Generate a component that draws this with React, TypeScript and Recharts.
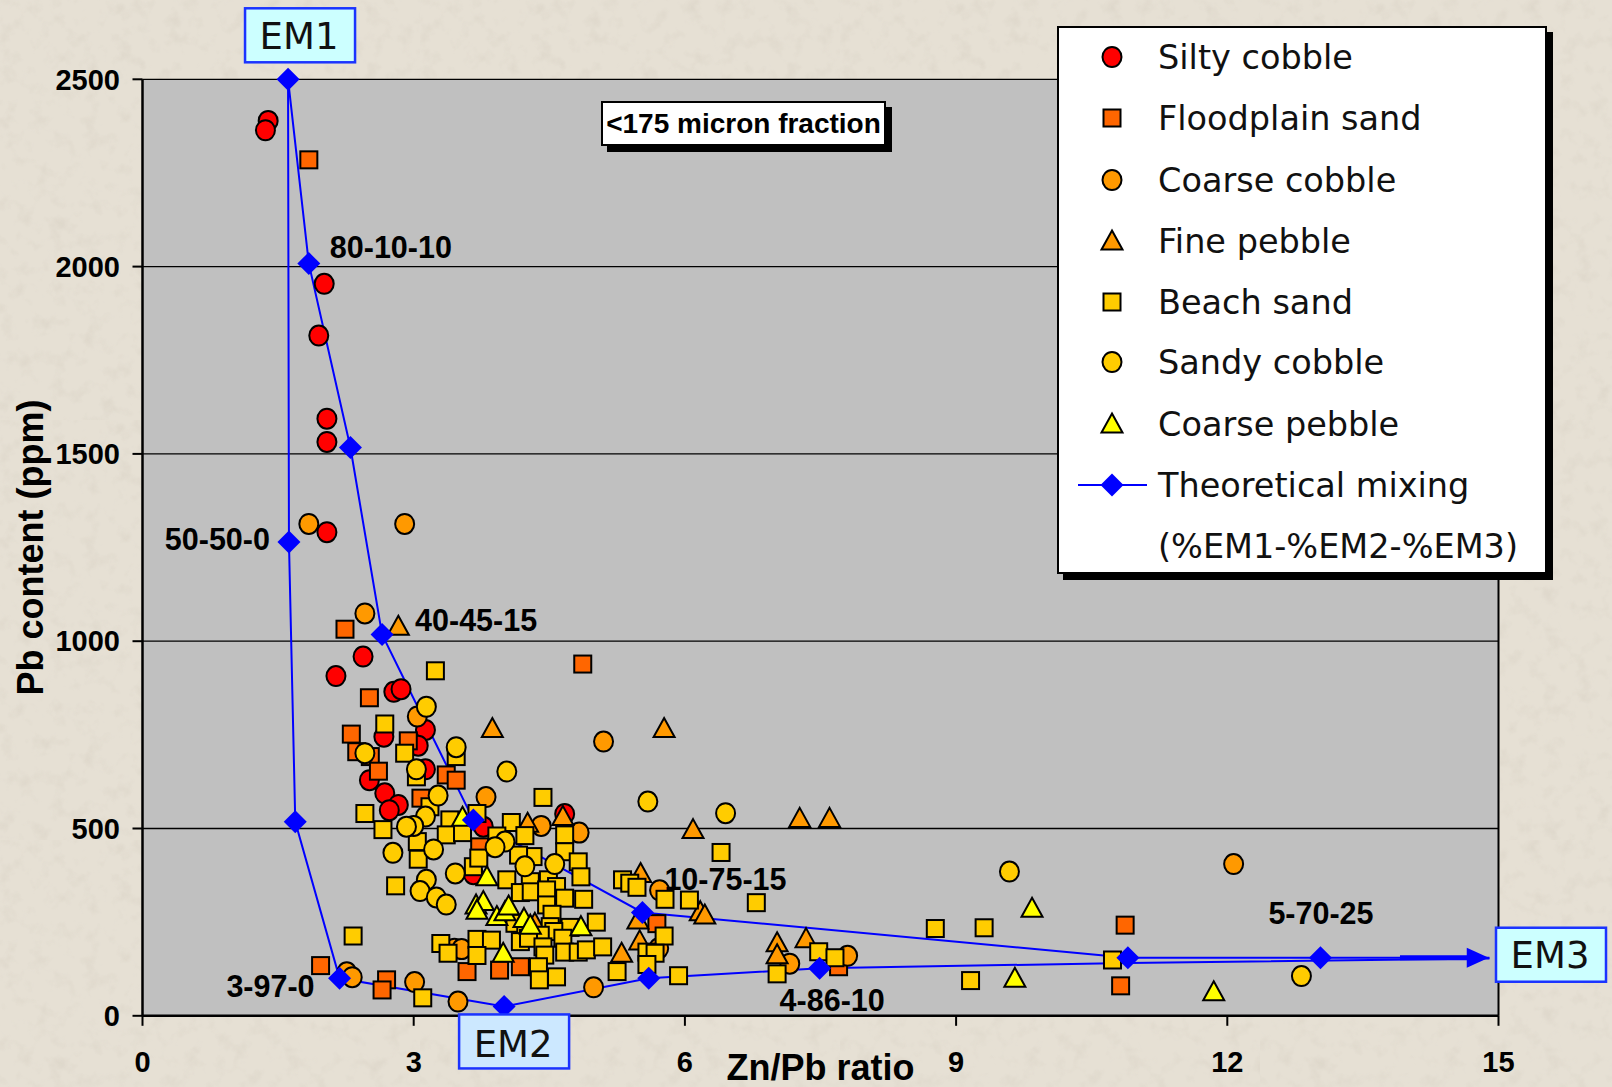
import React from 'react';
import { ScatterChart, Scatter, XAxis, YAxis, CartesianGrid, ReferenceLine, ReferenceDot } from 'recharts';

type Pt = [number, number];

const xTicks = [0, 3, 6, 9, 12, 15];
const yTicks = [0, 500, 1000, 1500, 2000, 2500];

// sample groups: [Zn/Pb ratio, Pb ppm]
const siltyCobble: Pt[] = [
  [1.39, 2389], [1.36, 2364], [2.01, 1954], [1.95, 1816], [2.04, 1594], [2.04, 1532], [2.04, 1291],
  [2.44, 959], [2.14, 907], [2.78, 865], [2.86, 872], [3.13, 763], [2.67, 745], [3.05, 721],
  [3.13, 658], [2.51, 629], [2.68, 594], [2.83, 563], [2.73, 549], [3.77, 505], [4.67, 539], [3.66, 378],
];

const floodplainSand: Pt[] = [
  [1.84, 2285], [2.24, 1032], [4.87, 939], [2.51, 849], [2.31, 752], [2.94, 734], [2.37, 705],
  [2.52, 692], [2.61, 653], [3.36, 643], [3.47, 629], [3.08, 581], [3.73, 451], [1.97, 134],
  [2.70, 96], [2.65, 69], [3.59, 118], [3.95, 122], [4.18, 131], [5.69, 246], [7.70, 131],
  [10.87, 242], [10.82, 80],
];

const coarseCobble: Pt[] = [
  [1.84, 1313], [2.90, 1313], [2.46, 1074], [3.04, 799], [5.10, 732], [3.80, 584], [4.41, 507],
  [4.83, 489], [5.72, 335], [5.71, 180], [3.45, 179], [3.53, 178], [2.26, 116], [2.32, 103],
  [3.01, 90], [3.49, 38], [4.99, 76], [7.16, 139], [7.80, 160], [12.07, 405],
];

const finePebble: Pt[] = [
  [2.83, 1040], [3.87, 767], [5.77, 767], [6.09, 497], [4.65, 532], [4.26, 514], [7.27, 527],
  [7.60, 527], [5.51, 380], [6.17, 278], [6.22, 269], [5.48, 256], [5.50, 200], [5.30, 167],
  [7.02, 195], [7.02, 163], [7.34, 206], [4.34, 247],
];

const beachSand: Pt[] = [
  [3.24, 921], [2.68, 779], [2.90, 701], [3.47, 692], [3.03, 638], [3.18, 558], [2.46, 540],
  [3.40, 523], [2.66, 497], [3.36, 483], [3.54, 489], [3.04, 465], [3.05, 418], [2.80, 347],
  [2.33, 213], [3.30, 193], [3.38, 167], [3.10, 48], [4.43, 583], [4.08, 516], [3.70, 540],
  [3.92, 480], [4.23, 481], [4.67, 483], [4.67, 438], [4.32, 425], [4.16, 429], [4.82, 411],
  [4.85, 371], [3.66, 398], [3.72, 421], [4.03, 363], [4.29, 358], [4.49, 363], [4.58, 345],
  [4.18, 329], [4.30, 331], [4.47, 336], [4.67, 314], [4.88, 311], [4.47, 296], [4.53, 271],
  [4.12, 247], [4.51, 238], [4.73, 236], [4.55, 225], [4.24, 220], [4.40, 215], [5.02, 250],
  [3.70, 204], [3.86, 202], [4.18, 198], [4.27, 207], [4.43, 184], [4.65, 207], [4.67, 170],
  [4.82, 170], [4.91, 176], [5.09, 184], [4.45, 162], [3.70, 161], [4.38, 131], [4.39, 96],
  [4.58, 104], [5.25, 118], [5.31, 363], [5.39, 354], [5.47, 343], [5.78, 311], [6.05, 309],
  [6.79, 302], [6.40, 436], [5.77, 213], [5.58, 170], [5.67, 167], [5.58, 137], [5.93, 107],
  [7.02, 112], [7.48, 171], [7.66, 155], [8.77, 233], [9.31, 235], [9.16, 94], [10.73, 149],
];

const sandyCobble: Pt[] = [
  [3.14, 825], [2.46, 701], [3.47, 717], [3.03, 658], [3.27, 588], [3.13, 532], [3.00, 507],
  [2.92, 505], [4.03, 652], [5.59, 572], [6.45, 541], [2.77, 435], [3.22, 444], [3.46, 380],
  [3.14, 363], [3.07, 333], [3.25, 316], [3.36, 297], [4.01, 465], [3.90, 450], [4.23, 399],
  [4.56, 405], [9.59, 385], [12.82, 106],
];

const coarsePebble: Pt[] = [
  [3.54, 530], [3.81, 371], [3.69, 296], [3.77, 305], [3.70, 282], [3.92, 265], [4.01, 278],
  [4.05, 293], [4.22, 260], [4.29, 242], [4.85, 238], [3.99, 167], [9.84, 287], [9.65, 100],
  [11.85, 64],
];

// theoretical mixing model
const mixUpper: Pt[] = [
  [1.61, 2500], [1.84, 2008], [2.30, 1517], [2.65, 1018], [3.66, 523], [5.53, 276],
  [10.9, 155], [13.03, 155], [14.9, 155],
];
const mixLower: Pt[] = [
  [1.61, 2500], [1.62, 1265], [1.69, 518], [2.18, 100], [4.0, 25], [5.6, 100], [7.49, 127],
  [10.9, 141], [14.9, 153],
];
const mixNodes: Pt[] = [
  [1.61, 2500], [1.84, 2008], [2.30, 1517], [2.65, 1018], [3.66, 523], [5.53, 276], [10.9, 155],
  [13.03, 155], [1.62, 1265], [1.69, 518], [2.18, 100], [4.0, 25], [5.6, 100], [7.49, 127],
];
const em3Point: Pt = [15, 155];
const arrowShaft: Pt[] = [[13.91, 155], [14.66, 155]];

const legendNames = [
  'Silty cobble', 'Floodplain sand', 'Coarse cobble', 'Fine pebble', 'Beach sand',
  'Sandy cobble', 'Coarse pebble', 'Theoretical mixing', '(%EM1-%EM2-%EM3)',
];

const toPoints = (pts: Pt[]) => pts.map(([x, y]) => ({ x, y }));

const ink = '#000';
const blue = '#0000ff';
const boldFont = '"Liberation Sans", Arial, sans-serif';
const plainFont = '"DejaVu Sans", Verdana, sans-serif';

// faint mottled texture for the page background
const grain =
  "url(\"data:image/svg+xml;utf8,<svg xmlns='http://www.w3.org/2000/svg' width='420' height='420'>" +
  "<filter id='n'><feTurbulence type='fractalNoise' baseFrequency='0.06' numOctaves='3' seed='7'/>" +
  "<feColorMatrix values='0 0 0 0 0.55 0 0 0 0 0.5 0 0 0 0 0.42 1.6 0 0 0 -0.8'/></filter>" +
  "<rect width='100%' height='100%' filter='url(%23n)' opacity='0.35'/></svg>\")";

const circle = (fill: string) => (p: any) => (
  <ellipse cx={p.cx} cy={p.cy} rx={9.5} ry={10} fill={fill} stroke={ink} strokeWidth={2} />
);
const square = (fill: string) => (p: any) => (
  <rect x={p.cx - 8.5} y={p.cy - 8.5} width={17} height={17} fill={fill} stroke={ink} strokeWidth={2} />
);
const triangle = (fill: string) => (p: any) => (
  <polygon
    points={`${p.cx},${p.cy - 10.5} ${p.cx + 10.5},${p.cy + 8.5} ${p.cx - 10.5},${p.cy + 8.5}`}
    fill={fill}
    stroke={ink}
    strokeWidth={2}
    strokeLinejoin="miter"
  />
);
const diamond = (p: any) => (
  <polygon points={`${p.cx},${p.cy - 11.5} ${p.cx + 11.5},${p.cy} ${p.cx},${p.cy + 11.5} ${p.cx - 11.5},${p.cy}`} fill={blue} />
);
const noMark = () => <g />;

const series = [
  { name: legendNames[0], data: siltyCobble, shape: circle('#ff0000') },
  { name: legendNames[1], data: floodplainSand, shape: square('#ff6600') },
  { name: legendNames[2], data: coarseCobble, shape: circle('#ff9900') },
  { name: legendNames[3], data: finePebble, shape: triangle('#ff9900') },
  { name: legendNames[4], data: beachSand, shape: square('#ffcc00') },
  { name: legendNames[5], data: sandyCobble, shape: circle('#ffcc00') },
  { name: legendNames[6], data: coarsePebble, shape: triangle('#ffff00') },
];

const labelText = (text: string, dx: number, dy: number, anchor: 'start' | 'end' | 'middle') => (p: any) => (
  <text x={p.cx + dx} y={p.cy + dy} textAnchor={anchor} fontFamily={boldFont} fontWeight={700} fontSize={30.5} fill={ink}>
    {text}
  </text>
);

const emBox = (text: string, left: number, top: number, fill: string, tdy: number) => (p: any) => (
  <g>
    <rect x={p.cx + left} y={p.cy + top} width={110} height={54} fill={fill} stroke="#1a33ff" strokeWidth={2.5} />
    <text x={p.cx + left + 54} y={p.cy + top + tdy} textAnchor="middle" fontFamily={plainFont} fontSize={37} fill="#111">
      {text}
    </text>
  </g>
);

const arrowHead = (p: any) => (
  <polygon points={`${p.cx - 1},${p.cy - 10} ${p.cx + 21},${p.cy} ${p.cx - 1},${p.cy + 10}`} fill={blue} />
);

function LegendBox() {
  const rows = [31, 92, 154, 215, 276, 336, 398, 459, 520];
  return (
    <svg width={500} height={560} style={{ position: 'absolute', left: 1057, top: 26 }}>
      <rect x={6} y={6} width={490} height={548} fill="#000" />
      <rect x={1} y={1} width={488} height={546} fill="#fff" stroke="#000" strokeWidth={2} />
      {series.map((s, i) => (
        <g key={s.name}>{s.shape({ cx: 55, cy: rows[i] })}</g>
      ))}
      <line x1={21} y1={rows[7]} x2={90} y2={rows[7]} stroke={blue} strokeWidth={2} />
      {diamond({ cx: 55, cy: rows[7] })}
      {legendNames.map((n, i) => (
        <text key={n} x={101} y={rows[i] + 12} fontFamily={plainFont} fontSize={33.5} fill="#111">
          {n}
        </text>
      ))}
    </svg>
  );
}

export default function App() {
  const tickStyle = { fill: ink, fontSize: 29, fontWeight: 700, fontFamily: boldFont };
  return (
    <div
      style={{
        position: 'absolute',
        left: 0,
        top: 0,
        width: 1612,
        height: 1087,
        backgroundColor: '#e6e0d4',
        backgroundImage: grain,
        overflow: 'hidden',
      }}
    >
      <ScatterChart width={1612} height={1087} margin={{ top: 79.3, right: 113.5, bottom: 0, left: 0 }}>
        <CartesianGrid vertical={false} stroke={ink} strokeWidth={1.3} fill="#c0c0c0" fillOpacity={1} />
        <XAxis
          type="number"
          dataKey="x"
          domain={[0, 15]}
          ticks={xTicks}
          interval={0}
          height={71.2}
          tickSize={10}
          tickMargin={26}
          axisLine={{ stroke: ink, strokeWidth: 2.5 }}
          tickLine={{ stroke: ink, strokeWidth: 2 }}
          tick={tickStyle}
          label={(p: any) => (
            <text
              x={p.viewBox.x + p.viewBox.width / 2}
              y={p.viewBox.y + 64}
              textAnchor="middle"
              fontFamily={boldFont}
              fontWeight={700}
              fontSize={36}
              fill={ink}
            >
              Zn/Pb ratio
            </text>
          )}
        />
        <YAxis
          type="number"
          dataKey="y"
          domain={[0, 2500]}
          ticks={yTicks}
          interval={0}
          width={142.5}
          tickSize={10}
          tickMargin={12.5}
          axisLine={{ stroke: ink, strokeWidth: 2.5 }}
          tickLine={{ stroke: ink, strokeWidth: 2 }}
          tick={tickStyle}
          label={(p: any) => {
            const cy = p.viewBox.y + p.viewBox.height / 2;
            return (
              <text
                x={43}
                y={cy}
                transform={`rotate(-90, 43, ${cy})`}
                textAnchor="middle"
                fontFamily={boldFont}
                fontWeight={700}
                fontSize={36}
                fill={ink}
              >
                Pb content (ppm)
              </text>
            );
          }}
        />
        <ReferenceLine x={15} stroke={ink} strokeWidth={2} ifOverflow="visible" />

        <Scatter data={toPoints(mixUpper)} fill={blue} line={{ stroke: blue, strokeWidth: 2 }} lineType="joint" shape={noMark} isAnimationActive={false} />
        <Scatter data={toPoints(mixLower)} fill={blue} line={{ stroke: blue, strokeWidth: 2 }} lineType="joint" shape={noMark} isAnimationActive={false} />

        {series.map((s) => (
          <Scatter key={s.name} name={s.name} data={toPoints(s.data)} shape={s.shape} isAnimationActive={false} />
        ))}

        <Scatter data={toPoints(mixNodes)} fill={blue} shape={diamond} isAnimationActive={false} />

        <ReferenceLine
          segment={arrowShaft.map(([x, y]) => ({ x, y }))}
          stroke={blue}
          strokeWidth={5}
          ifOverflow="visible"
        />
        <ReferenceDot x={arrowShaft[1][0]} y={arrowShaft[1][1]} r={0} ifOverflow="visible" shape={arrowHead} />

        <ReferenceDot x={mixNodes[1][0]} y={mixNodes[1][1]} r={0} ifOverflow="visible" shape={labelText('80-10-10', 21, -6, 'start')} />
        <ReferenceDot x={mixNodes[8][0]} y={mixNodes[8][1]} r={0} ifOverflow="visible" shape={labelText('50-50-0', -19, 8, 'end')} />
        <ReferenceDot x={mixNodes[3][0]} y={mixNodes[3][1]} r={0} ifOverflow="visible" shape={labelText('40-45-15', 33, -3, 'start')} />
        <ReferenceDot x={mixNodes[10][0]} y={mixNodes[10][1]} r={0} ifOverflow="visible" shape={labelText('3-97-0', -25, 19, 'end')} />
        <ReferenceDot x={mixNodes[5][0]} y={mixNodes[5][1]} r={0} ifOverflow="visible" shape={labelText('10-75-15', 22, -22, 'start')} />
        <ReferenceDot x={mixNodes[13][0]} y={mixNodes[13][1]} r={0} ifOverflow="visible" shape={labelText('4-86-10', -40, 43, 'start')} />
        <ReferenceDot x={mixNodes[7][0]} y={mixNodes[7][1]} r={0} ifOverflow="visible" shape={labelText('5-70-25', -52, -34, 'start')} />

        <ReferenceDot x={mixNodes[0][0]} y={mixNodes[0][1]} r={0} ifOverflow="visible" shape={emBox('EM1', -43, -71, '#ccffff', 41)} />
        <ReferenceDot x={mixNodes[11][0]} y={mixNodes[11][1]} r={0} ifOverflow="visible" shape={emBox('EM2', -45, 8, '#cce8ff', 43)} />
        <ReferenceDot x={em3Point[0]} y={em3Point[1]} r={0} ifOverflow="visible" shape={emBox('EM3', -2.5, -30, '#ccffff', 40)} />
      </ScatterChart>

      <div
        style={{
          position: 'absolute',
          left: 601,
          top: 101,
          width: 281,
          height: 41,
          background: '#fff',
          border: '2px solid #000',
          boxShadow: '6px 6px 0 #000',
          fontFamily: boldFont,
          fontWeight: 700,
          fontSize: 28,
          lineHeight: '41px',
          textAlign: 'center',
          whiteSpace: 'nowrap',
        }}
      >
        &lt;175 micron fraction
      </div>

      <LegendBox />
    </div>
  );
}
